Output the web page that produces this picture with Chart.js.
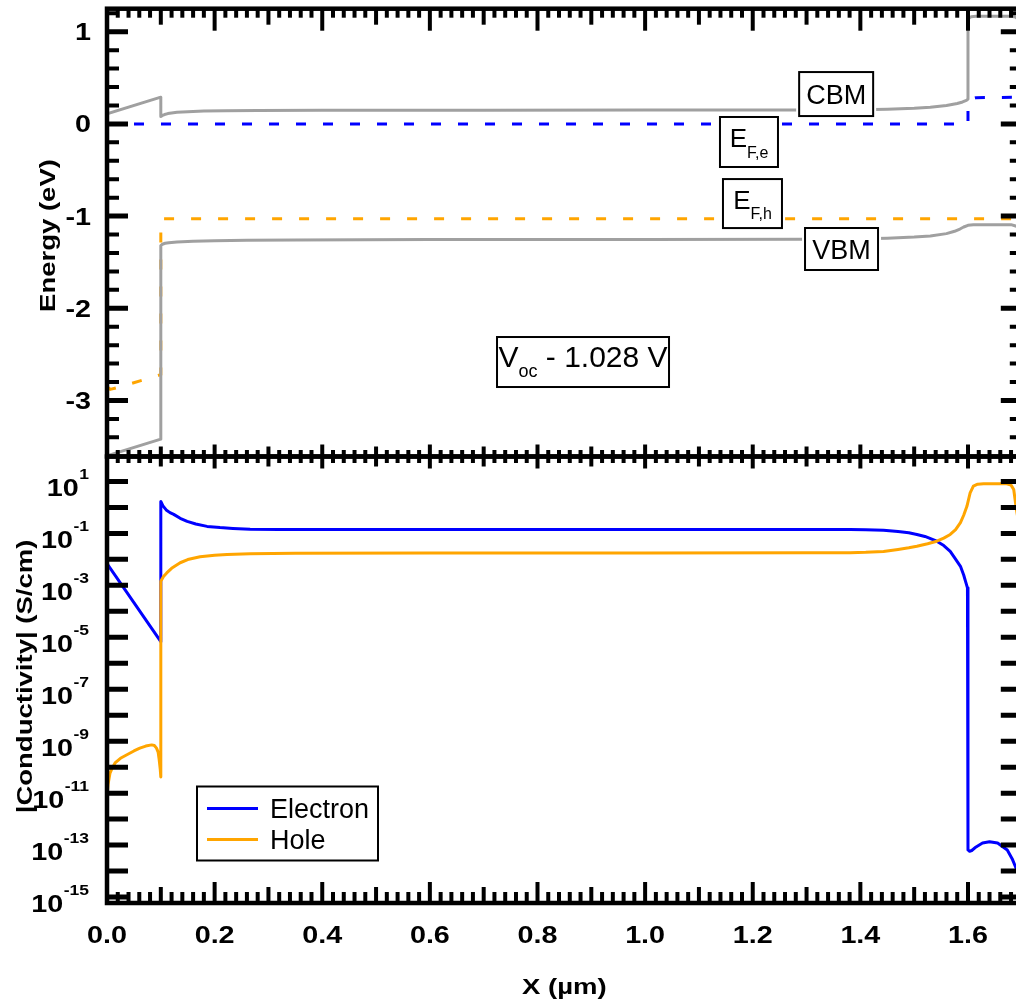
<!DOCTYPE html>
<html><head><meta charset="utf-8">
<script src="https://cdn.jsdelivr.net/npm/chart.js@4.4.1/dist/chart.umd.min.js"></script>
<style>
html,body{margin:0;padding:0;background:#fff;overflow:hidden;}
#wrap{position:relative;width:1016px;height:1004px;overflow:hidden;background:#fff;}
#cA{position:absolute;left:0;top:0;}
#cB{position:absolute;left:0;top:440px;}
</style></head><body>
<div id="wrap"><canvas id="cA" width="1040" height="470"></canvas><canvas id="cB" width="1040" height="564"></canvas></div>
<script>
// ---------- data ----------
const xRange = [0, 1.7];
const energyRange = [-3.608, 1.25];
const condRange = [5.89e-16, 91.2];

const xTickValues = [0, 0.2, 0.4, 0.6, 0.8, 1.0, 1.2, 1.4, 1.6];
const xTickLabels = ['0.0', '0.2', '0.4', '0.6', '0.8', '1.0', '1.2', '1.4', '1.6'];
const energyTickValues = [1, 0, -1, -2, -3];
const energyTickLabels = ['1', '0', '-1', '-2', '-3'];
const condTickValues = [1e1, 1e-1, 1e-3, 1e-5, 1e-7, 1e-9, 1e-11, 1e-13, 1e-15];
const condTickExponents = ['1', '-1', '-3', '-5', '-7', '-9', '-11', '-13', '-15'];

// Energy band diagram (x in µm, energy in eV)
const cbm = [[0,0.11],[0.1,0.29],[0.1,0.08],[0.103,0.092],[0.107,0.102],[0.113,0.112],[0.12,0.119],[0.13,0.126],[0.15,0.133],[0.18,0.139],[0.22,0.143],[0.28,0.146],[0.4,0.148],[0.7,0.149],[1.0,0.15],[1.2,0.151],[1.3,0.152],[1.4,0.155],[1.45,0.16],[1.5,0.17],[1.53,0.18],[1.56,0.2],[1.58,0.222],[1.59,0.238],[1.597,0.255],[1.6,0.27],[1.6,1.12],[1.602,1.15],[1.606,1.163],[1.615,1.168],[1.68,1.168],[1.688,1.16],[1.695,1.13],[1.7,1.08]];
const vbm = [[0,-3.6],[0.1,-3.42],[0.1,-1.32],[0.103,-1.305],[0.108,-1.295],[0.115,-1.288],[0.13,-1.28],[0.16,-1.273],[0.2,-1.268],[0.26,-1.262],[0.35,-1.258],[0.6,-1.255],[1.0,-1.253],[1.3,-1.25],[1.4,-1.246],[1.45,-1.24],[1.5,-1.228],[1.53,-1.215],[1.56,-1.19],[1.575,-1.165],[1.585,-1.14],[1.592,-1.118],[1.6,-1.1],[1.61,-1.093],[1.68,-1.093],[1.69,-1.11],[1.7,-1.15]];
const efe = [[0,0],[1.6,0],[1.6,0.22],[1.605,0.27],[1.615,0.285],[1.7,0.29]];
const efh = [[0,-2.85],[0.006,-2.88],[0.02,-2.86],[0.1,-2.72],[0.1,-1.03],[1.7,-1.03]];

// |Conductivity| (S/cm)
const electron = [[0,6.9e-3],[0.1,6.8e-6],[0.1,1.7],[0.104,1.15],[0.11,0.8],[0.117,0.63],[0.124,0.54],[0.136,0.38],[0.149,0.29],[0.165,0.23],[0.186,0.186],[0.21,0.167],[0.234,0.155],[0.266,0.145],[0.32,0.142],[0.5,0.141],[1.0,0.141],[1.3,0.141],[1.381,0.14],[1.41,0.138],[1.443,0.131],[1.47,0.117],[1.49,0.105],[1.505,0.091],[1.52,0.076],[1.542,0.05],[1.555,0.034],[1.567,0.0204],[1.575,0.0117],[1.586,5.4e-3],[1.592,2.5e-3],[1.596,1.3e-3],[1.599,8e-4],[1.6,6e-4],[1.6,6.5e-14],[1.603,5.8e-14],[1.607,6.2e-14],[1.615,8.5e-14],[1.627,1.2e-13],[1.64,1.35e-13],[1.655,1.2e-13],[1.673,6.5e-14],[1.682,3e-14],[1.69,1.2e-14],[1.7,3e-15]];
const hole = [[0,7.4e-12],[0.002,2.2e-11],[0.0056,5.9e-11],[0.01,9.5e-11],[0.015,1.45e-10],[0.025,2.2e-10],[0.037,3.0e-10],[0.05,4.2e-10],[0.061,5.4e-10],[0.072,6.5e-10],[0.083,7.2e-10],[0.088,6.8e-10],[0.092,5.4e-10],[0.095,3.8e-10],[0.097,1.9e-10],[0.099,8e-11],[0.1,4.2e-11],[0.1,1.45e-3],[0.105,2.2e-3],[0.111,3.0e-3],[0.12,4.5e-3],[0.136,7.4e-3],[0.15,9.8e-3],[0.173,1.26e-2],[0.2,1.45e-2],[0.223,1.55e-2],[0.266,1.65e-2],[0.35,1.72e-2],[0.6,1.76e-2],[1.0,1.77e-2],[1.3,1.78e-2],[1.381,1.8e-2],[1.41,1.86e-2],[1.443,2.0e-2],[1.47,2.4e-2],[1.49,2.8e-2],[1.505,3.2e-2],[1.525,4.0e-2],[1.542,5.0e-2],[1.555,6.6e-2],[1.567,9.1e-2],[1.577,0.14],[1.586,0.26],[1.592,0.5],[1.598,1.1],[1.604,3.6],[1.61,6.6],[1.618,7.8],[1.629,8.1],[1.672,8.1],[1.68,7.2],[1.685,4.9],[1.69,0.83],[1.7,0.05]];

const seriesNames = ['Electron', 'Hole'];

// ---------- styles ----------
const GRAY = '#a0a0a0', BLUE = '#0000ff', ORANGE = '#ffa500';
const FONT_FAMILY = '"Liberation Sans", Arial, Helvetica, sans-serif';
const BOLD_TICK = 'bold 23px ' + FONT_FAMILY;
const BOLD_SUP = 'bold 14px ' + FONT_FAMILY;
const BOLD_TITLE = 'bold 22px ' + FONT_FAMILY;
const STRETCH = 1.25;

const toXY = arr => arr.map(p => ({x: p[0], y: p[1]}));

function sText(ctx, str, x, y, font, align, stretch) {
  const s = stretch || 1;
  ctx.save();
  ctx.font = font;
  ctx.textBaseline = 'alphabetic';
  ctx.textAlign = 'left';
  const w = ctx.measureText(str).width * s;
  let x0 = x;
  if (align === 'center') x0 = x - w / 2; else if (align === 'right') x0 = x - w;
  ctx.translate(x0, y);
  ctx.scale(s, 1);
  ctx.fillStyle = '#000';
  ctx.fillText(str, 0, 0);
  ctx.restore();
  return w;
}
function tWidth(ctx, str, font, stretch) {
  ctx.save(); ctx.font = font; const w = ctx.measureText(str).width * (stretch || 1); ctx.restore(); return w;
}

function drawXTicks(ctx, xs, yEdge, dir, lens) {
  ctx.save(); ctx.strokeStyle = '#000'; ctx.lineWidth = 4; ctx.lineCap = 'butt';
  for (let i = 0; i <= 85; i++) {
    const px = xs.getPixelForValue(i * 0.02);
    const len = i % 10 === 0 ? lens[0] : (i % 5 === 0 ? lens[1] : lens[2]);
    ctx.beginPath(); ctx.moveTo(px, yEdge); ctx.lineTo(px, yEdge + dir * len); ctx.stroke();
  }
  ctx.restore();
}
function drawYTick(ctx, py, area, len, width) {
  ctx.save(); ctx.strokeStyle = '#000'; ctx.lineWidth = width; ctx.lineCap = 'butt';
  ctx.beginPath();
  ctx.moveTo(area.left, py); ctx.lineTo(area.left + len, py);
  ctx.moveTo(area.right, py); ctx.lineTo(area.right - len, py);
  ctx.stroke(); ctx.restore();
}
function drawFrame(ctx, area) {
  ctx.save(); ctx.strokeStyle = '#000'; ctx.lineWidth = 4.5;
  ctx.strokeRect(area.left, area.top, area.right - area.left, area.bottom - area.top);
  ctx.restore();
}

// annotation boxes in the energy panel (position in data units)
const annotations = [
  {x: 1.355, y: 0.324, w: 74, h: 44, parts: [{t: 'CBM', size: 27, dy: 10}]},
  {x: 1.365, y: -1.357, w: 73, h: 42, parts: [{t: 'VBM', size: 27, dy: 9.5}]},
  {x: 1.193, y: -0.196, w: 58, h: 50, parts: [{t: 'E', size: 26, dy: 5}, {t: 'F,e', size: 16, dy: 16}]},
  {x: 1.1995, y: -0.864, w: 59, h: 49, parts: [{t: 'E', size: 26, dy: 5}, {t: 'F,h', size: 16, dy: 15}]},
  {x: 0.8846, y: -2.583, w: 172, h: 50, parts: [{t: 'V', size: 30, dy: 5}, {t: 'oc', size: 18, dy: 15}, {t: ' - 1.028 V', size: 30, dy: 5}]}
];

const panelA = {
  id: 'panelA',
  afterDatasetsDraw(chart) {
    const ctx = chart.ctx, xs = chart.scales.x, ys = chart.scales.y;
    annotations.forEach(a => {
      const cx = xs.getPixelForValue(a.x), cy = ys.getPixelForValue(a.y);
      ctx.save();
      ctx.fillStyle = '#fff';
      ctx.fillRect(cx - a.w / 2 - 3, cy - a.h / 2 - 3, a.w + 6, a.h + 6);
      ctx.strokeStyle = '#000'; ctx.lineWidth = 2;
      ctx.strokeRect(cx - a.w / 2, cy - a.h / 2, a.w, a.h);
      ctx.restore();
      let total = 0;
      a.parts.forEach(p => { total += tWidth(ctx, p.t, p.size + 'px ' + FONT_FAMILY); });
      let x = cx - total / 2;
      a.parts.forEach(p => { x += sText(ctx, p.t, x, cy + p.dy, p.size + 'px ' + FONT_FAMILY, 'left'); });
    });
  },
  afterDraw(chart) {
    const ctx = chart.ctx, area = chart.chartArea, xs = chart.scales.x, ys = chart.scales.y;
    drawFrame(ctx, area);
    drawXTicks(ctx, xs, area.top, 1, [22, 16, 9]);
    drawXTicks(ctx, xs, area.bottom, -1, [12, 10, 6.5]);
    for (let k = -17; k <= 6; k++) {
      const major = k % 5 === 0;
      drawYTick(ctx, ys.getPixelForValue(k * 0.2), area, major ? 21 : 12, major ? 5 : 4);
    }
    energyTickValues.forEach((v, i) => {
      sText(ctx, energyTickLabels[i], 91, ys.getPixelForValue(v) + 8.5, BOLD_TICK, 'right', STRETCH);
    });
    ctx.save();
    ctx.translate(55, 235.5); ctx.rotate(-Math.PI / 2);
    sText(ctx, 'Energy (eV)', 0, 0, BOLD_TITLE, 'center', STRETCH);
    ctx.restore();
  }
};

const panelB = {
  id: 'panelB',
  afterDraw(chart) {
    const ctx = chart.ctx, area = chart.chartArea, xs = chart.scales.x, ys = chart.scales.y;
    drawFrame(ctx, area);
    drawXTicks(ctx, xs, area.top, 1, [12, 10, 6.5]);
    drawXTicks(ctx, xs, area.bottom, -1, [21, 16, 11]);
    for (let e = -15; e <= 1; e++) {
      drawYTick(ctx, ys.getPixelForValue(Math.pow(10, e)), area, 21, 5);
    }
    condTickValues.forEach((v, i) => {
      const py = ys.getPixelForValue(v);
      const wSup = tWidth(ctx, condTickExponents[i], BOLD_SUP, STRETCH);
      const right = 89;
      sText(ctx, condTickExponents[i], right - wSup, py - 2, BOLD_SUP, 'left', STRETCH);
      sText(ctx, '10', right - wSup - 0.5, py + 15, BOLD_TICK, 'right', STRETCH);
    });
    xTickValues.forEach((v, i) => {
      sText(ctx, xTickLabels[i], xs.getPixelForValue(v), area.bottom + 40, BOLD_TICK, 'center', STRETCH);
    });
    sText(ctx, 'X (\u00B5m)', (area.left + area.right) / 2, area.bottom + 91, BOLD_TITLE, 'center', STRETCH);
    ctx.save();
    ctx.translate(32, 236.5); ctx.rotate(-Math.PI / 2);
    sText(ctx, '|Conductivity| (S/cm)', 0, 0, BOLD_TITLE, 'center', STRETCH);
    ctx.restore();
    // legend
    const lx = area.left + 90, ly = area.top + 330, lw = 181, lh = 74;
    ctx.save();
    ctx.fillStyle = '#fff'; ctx.fillRect(lx, ly, lw, lh);
    ctx.strokeStyle = '#000'; ctx.lineWidth = 2; ctx.strokeRect(lx, ly, lw, lh);
    const rows = [{c: BLUE, t: seriesNames[0], y: ly + 22}, {c: ORANGE, t: seriesNames[1], y: ly + 53}];
    rows.forEach(r => {
      ctx.strokeStyle = r.c; ctx.lineWidth = 3;
      ctx.beginPath(); ctx.moveTo(lx + 10, r.y); ctx.lineTo(lx + 61, r.y); ctx.stroke();
      sText(ctx, r.t, lx + 73, r.y + 9, '27px ' + FONT_FAMILY, 'left');
    });
    ctx.restore();
  }
};

const commonOpts = (yScale, pad) => ({
  responsive: false,
  animation: false,
  events: [],
  layout: {padding: pad},
  plugins: {legend: {display: false}, tooltip: {enabled: false}, title: {display: false}},
  scales: {
    x: {type: 'linear', min: xRange[0], max: xRange[1], display: false},
    y: yScale
  }
});
const lineDs = (data, color, dash, label) => ({
  label, data: toXY(data), showLine: true, pointRadius: 0, borderColor: color,
  backgroundColor: color, borderWidth: 3, borderDash: dash || [], tension: 0, fill: false,
  borderJoinStyle: 'round'
});

new Chart(document.getElementById('cA'), {
  type: 'scatter',
  data: {datasets: [
    lineDs(cbm, GRAY, null, 'CBM'),
    lineDs(vbm, GRAY, null, 'VBM'),
    lineDs(efe, BLUE, [10, 17], 'EF,e'),
    lineDs(efh, ORANGE, [10, 17], 'EF,h')
  ]},
  options: commonOpts({type: 'linear', min: energyRange[0], max: energyRange[1], display: false},
    {left: 107, right: 18.2, top: 8.7, bottom: 13.5}),
  plugins: [panelA]
});

new Chart(document.getElementById('cB'), {
  type: 'scatter',
  data: {datasets: [
    lineDs(hole, ORANGE, null, seriesNames[1]),
    lineDs(electron, BLUE, null, seriesNames[0])
  ]},
  options: commonOpts({type: 'logarithmic', min: condRange[0], max: condRange[1], display: false},
    {left: 107, right: 18.2, top: 16.5, bottom: 101}),
  plugins: [panelB]
});
</script>
</body></html>
